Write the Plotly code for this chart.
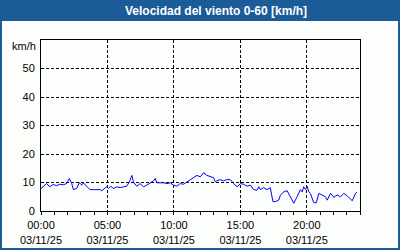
import plotly.graph_objects as go

DAY = "2025-11-03"
times = ["00:00","00:10","00:25","00:40","00:55","01:10","01:25","01:40","01:55","02:08",
         "02:19","02:26","02:41","02:53","03:04","03:11","03:26","03:41","03:57","04:12",
         "04:27","04:34","04:49","04:57","05:04","05:15","05:27","05:42","05:57","06:12",
         "06:27","06:39","06:50","06:57","07:12","07:27","07:43","07:58","08:13","08:28",
         "08:35","08:43","08:58","09:13","09:28","09:43","09:58","10:13","10:28","10:44",
         "10:59","11:14","11:29","11:44","11:59","12:14","12:29","12:44","12:59","13:07",
         "13:14","13:29","13:44","13:59","14:15","14:30","14:45","15:00","15:15","15:30",
         "15:45","16:00","16:15","16:23","16:30","16:45","17:00","17:15","17:27","17:38",
         "17:53","18:01","18:16","18:31","18:46","19:01","19:16","19:31","19:39","19:46",
         "19:54","20:01","20:09","20:16","20:31","20:43","20:54","21:09","21:24","21:32",
         "21:47","22:02","22:17","22:32","22:47","23:02","23:25","23:40","23:47"]
speed = [7.9,8.7,9.6,8.5,9.3,8.9,9.4,9.2,9.6,11.4,
         9.6,7.5,7.9,9.9,9.1,9.9,8.5,7.5,7.5,7.5,
         7.5,7.1,7.9,8.5,7.9,8.7,7.9,8.5,8.2,8.5,
         8.7,10.2,12.5,10.2,8.7,9.6,8.5,9.1,9.9,10.6,
         11.4,9.9,9.9,9.9,9.6,9.9,9.1,8.7,9.6,9.4,
         10.2,11.0,12.0,12.5,12.0,13.4,12.5,12.0,11.7,10.2,
         10.6,11.0,10.6,11.0,11.0,9.6,8.5,9.6,9.4,8.7,
         9.1,7.5,7.3,8.5,7.5,8.2,7.5,8.2,3.3,3.3,
         3.8,5.6,6.7,7.1,5.0,2.7,5.0,7.5,6.7,8.5,
         7.5,8.7,6.7,6.2,2.9,2.9,6.2,5.6,5.0,3.8,
         6.2,4.8,5.6,5.0,6.2,5.3,3.6,6.2,6.7]
title_text = "Velocidad del viento 0-60 [km/h]"
unit_text = "km/h"

W, H = 400, 250
ML, MR, MT, MB = 41, 40, 40, 39
PW, PH = W - ML - MR, H - MT - MB

def px_x(px):
    return (px - ML) / PW

def px_y(py):  # py measured from top
    return (H - py - MB) / PH

x = [f"{DAY} {t}" for t in times]
BLUE = "#1b5c98"
BG = "#fcfefc"
FONT = "Liberation Sans"

fig = go.Figure()
fig.add_trace(go.Scatter(x=x, y=speed, mode="lines",
                         line=dict(color="#0000ff", width=1), hoverinfo="skip"))

fig.update_layout(
    width=W, height=H,
    margin=dict(l=ML, r=MR, t=MT, b=MB, pad=0, autoexpand=False),
    paper_bgcolor=BG, plot_bgcolor=BG,
    showlegend=False,
    font=dict(family=FONT, size=11, color="black"),
    shapes=[
        dict(type="rect", xref="paper", yref="paper",
             x0=px_x(0), x1=px_x(W), y0=px_y(21), y1=px_y(0),
             fillcolor=BLUE, line=dict(width=0), layer="above"),
        dict(type="rect", xref="paper", yref="paper",
             x0=px_x(1), x1=px_x(W - 1), y0=px_y(H - 1), y1=px_y(1),
             fillcolor="rgba(0,0,0,0)", line=dict(color=BLUE, width=2), layer="above"),
    ],
    annotations=[
        dict(text=title_text, xref="paper", yref="paper", x=px_x(216), y=px_y(11),
             xanchor="center", yanchor="middle", showarrow=False,
             font=dict(family=FONT, size=12, color="white", weight="bold")),
        dict(text=unit_text, xref="paper", yref="paper", x=px_x(38), y=px_y(46),
             xanchor="right", yanchor="middle", showarrow=False,
             font=dict(family=FONT, size=11, color="black")),
    ],
)

fig.update_xaxes(
    type="date", automargin=False,
    range=[f"{DAY} 00:00", "2025-11-04 00:00"],
    dtick=5 * 3600 * 1000, tick0=f"{DAY} 00:00",
    tickformat="%H:%M<br>%d/%m/%y",
    ticks="outside", ticklen=3, tickcolor="black",
    minor=dict(dtick=3600 * 1000, ticks="outside", ticklen=3, tickcolor="black", showgrid=False),
    showgrid=True, gridcolor="black", griddash="3px,2px", gridwidth=1,
    showline=True, linecolor="black", linewidth=1, mirror=True,
    zeroline=False, fixedrange=True, ticklabelstandoff=1,
    tickfont=dict(family=FONT, size=11, color="black"),
)
fig.update_yaxes(
    range=[0, 60], tickvals=[0, 10, 20, 30, 40, 50], automargin=False,
    showgrid=True, gridcolor="black", griddash="3px,2px", gridwidth=1,
    showline=True, linecolor="black", linewidth=1, mirror=True,
    zeroline=False, ticks="", ticklabelstandoff=3,
    tickfont=dict(family=FONT, size=11, color="black"),
)

fig.write_html("out.html")
